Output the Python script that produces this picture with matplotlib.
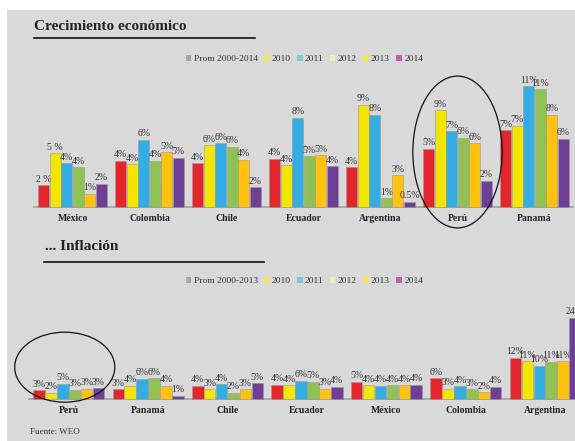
import matplotlib.pyplot as plt
from matplotlib.patches import Ellipse, Patch
import numpy as np

SERIES = ["Prom", "2010", "2011", "2012", "2013", "2014"]
BAR_COLORS = ["#e3262b", "#f2e600", "#33ade4", "#8fc153", "#ffc20e", "#6f3f98"]

growth_countries = ["México", "Colombia", "Chile", "Ecuador", "Argentina", "Perú", "Panamá"]
growth_values = np.array([
    [2.0, 4.9, 4.0, 3.6, 1.2, 2.1],
    [4.2, 3.9, 6.1, 4.2, 5.0, 4.5],
    [4.0, 5.6, 5.8, 5.5, 4.3, 1.8],
    [4.4, 3.8, 8.1, 4.6, 4.7, 3.7],
    [3.6, 9.3, 8.4, 0.8, 2.9, 0.5],
    [5.3, 8.8, 6.9, 6.3, 5.8, 2.4],
    [7.0, 7.4, 11.0, 10.7, 8.4, 6.2],
])
growth_labels = [
    ["2 %", "5 %", "4%", "4%", "1%", "2%"],
    ["4%", "4%", "6%", "4%", "5%", "5%"],
    ["4%", "6%", "6%", "6%", "4%", "2%"],
    ["4%", "4%", "8%", "5%", "5%", "4%"],
    ["4%", "9%", "8%", "1%", "3%", "0.5%"],
    ["5%", "9%", "7%", "6%", "6%", "2%"],
    ["7%", "7%", "11%", "11%", "8%", "6%"],
]
growth_legend = ["Prom 2000-2014", "2010", "2011", "2012", "2013", "2014"]

inflation_countries = ["Perú", "Panamá", "Chile", "Ecuador", "México", "Colombia", "Argentina"]
inflation_values = np.array([
    [2.6, 1.9, 4.6, 2.8, 3.0, 3.2],
    [2.9, 4.0, 6.0, 6.2, 4.0, 0.9],
    [4.0, 2.9, 4.4, 1.9, 2.9, 4.7],
    [4.2, 4.1, 5.5, 5.2, 3.0, 3.7],
    [5.1, 4.1, 4.0, 4.1, 4.1, 4.2],
    [6.2, 3.0, 3.8, 2.9, 2.0, 3.7],
    [12.3, 11.2, 9.9, 11.1, 11.2, 24.2],
])
inflation_legend = ["Prom 2000-2013", "2010", "2011", "2012", "2013", "2014"]

LEGEND_COLORS = ["#a6a6a6", "#f5e64b", "#7ecbe0", "#efefb4", "#f5e64b", "#b862b0"]

W, H = 575, 441
SERIF = "Liberation Serif"
BG = "#d9d9d9"


def fig_rect(left, top, width, height):
    return [left / W, 1 - (top + height) / H, width / W, height / H]


def draw_bars(axis, countries, values, labels, px_per_unit, height_px):
    bar_width = 0.15
    positions = np.arange(len(countries))
    for j in range(len(SERIES)):
        offsets = positions + (j - 2.5) * bar_width
        bars = axis.bar(
            offsets,
            values[:, j],
            width=bar_width * 0.97,
            color=BAR_COLORS[j],
            edgecolor="#9a9a9a",
            linewidth=0.4,
            clip_on=False,
            zorder=3,
        )
        for i, bar in enumerate(bars):
            axis.text(
                bar.get_x() + bar.get_width() / 2,
                bar.get_height() + 1.5 / px_per_unit,
                labels[i][j],
                ha="center",
                va="bottom",
                fontsize=7,
                family=SERIF,
                color="#333333",
                clip_on=False,
            )
    axis.set_xlim(-0.5, len(countries) - 0.5)
    axis.set_ylim(0, height_px / px_per_unit)
    axis.set_xticks(positions, labels=countries)
    axis.tick_params(axis="x", length=0, pad=5)
    for label in axis.get_xticklabels():
        label.set_fontfamily(SERIF)
        label.set_fontweight("bold")
        label.set_fontsize(7)
        label.set_color("#222222")
    axis.set_yticks([])
    axis.patch.set_alpha(0)
    for side in ["top", "right", "left"]:
        axis.spines[side].set_visible(False)
    axis.spines["bottom"].set_color("#a0a0a0")
    axis.spines["bottom"].set_linewidth(1.2)


def draw_legend(figure, names, x, y):
    handles = [Patch(facecolor=c, edgecolor="none") for c in LEGEND_COLORS]
    legend = figure.legend(
        handles,
        names,
        loc="center left",
        bbox_to_anchor=(x / W, 1 - y / H),
        ncol=6,
        frameon=False,
        handlelength=0.6,
        handleheight=0.6,
        handletextpad=0.25,
        columnspacing=0.65,
        prop={"family": SERIF, "size": 6.8},
    )
    for text in legend.get_texts():
        text.set_color("#333333")
    return legend


figure = plt.figure(figsize=(W / 100, H / 100), dpi=100)
figure.patches.append(
    plt.Rectangle((7 / W, 0), 1, 1 - 10 / H, transform=figure.transFigure,
                  facecolor=BG, edgecolor="none", zorder=-10)
)

# crecimiento
figure.text(34 / W, 1 - 27 / H, "Crecimiento económico", fontsize=11,
            fontweight="bold", family=SERIF, va="center", color="#222222")
figure.add_artist(plt.Line2D([34 / W, 255 / W], [1 - 38 / H] * 2,
                             color="#111111", linewidth=1.2))
draw_legend(figure, growth_legend, 177, 59)

top_axis = figure.add_axes(fig_rect(34, 60, 539, 147))
draw_bars(top_axis, growth_countries, growth_values, growth_labels, 11.0, 147)
top_axis.add_patch(Ellipse((5.0, 5.0), 1.16, 13.8, fill=False,
                           edgecolor="#111111", linewidth=0.9, clip_on=False, zorder=5))

# inflacion
figure.text(45 / W, 1 - 247 / H, "... Inflación", fontsize=11,
            fontweight="bold", family=SERIF, va="center", color="#222222")
figure.add_artist(plt.Line2D([44 / W, 264 / W], [1 - 262 / H] * 2,
                             color="#111111", linewidth=1.2))
draw_legend(figure, inflation_legend, 177, 281)

inflation_labels = [[f"{v:.0f}%" for v in row] for row in inflation_values]
bottom_axis = figure.add_axes(fig_rect(29, 299, 556, 100))
draw_bars(bottom_axis, inflation_countries, inflation_values, inflation_labels, 3.35, 100)
bottom_axis.add_patch(Ellipse((-0.05, 9.5), 1.26, 20.9, fill=False,
                              edgecolor="#111111", linewidth=0.9, clip_on=False, zorder=5))

figure.text(30 / W, 1 - 432 / H, "Fuente: WEO", fontsize=6.5, family=SERIF,
            va="center", color="#333333")

figure.savefig("out.png", dpi=100)
